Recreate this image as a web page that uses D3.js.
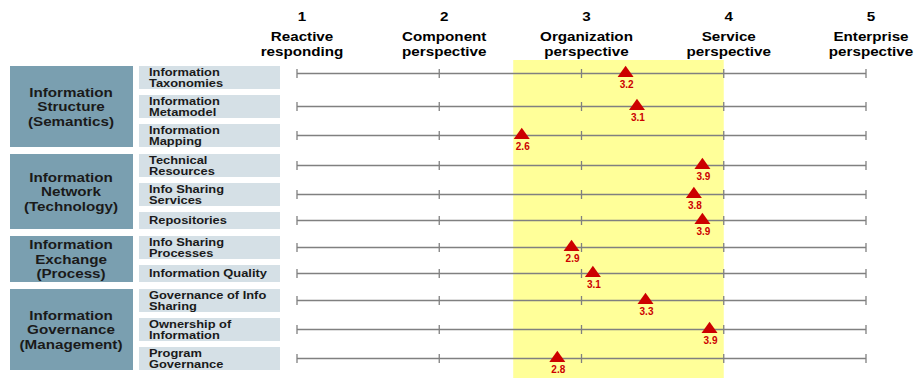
<!DOCTYPE html>
<html>
<head>
<meta charset="utf-8">
<script src="https://cdn.jsdelivr.net/npm/d3@7"></script>
<style>
  body { margin: 0; background: #fff; }
  svg { display: block; font-family: 'Liberation Sans', Arial, sans-serif; }
</style>
</head>
<body>
<div id="chart"></div>
<script>
// maturity levels across the top
let levels = [1, 2, 3, 4, 5]
let levelNames = [
  ['Reactive', 'responding'],
  ['Component', 'perspective'],
  ['Organization', 'perspective'],
  ['Service', 'perspective'],
  ['Enterprise', 'perspective']
]

// groups on the left and how many items each has
let groups = [
  ['Information', 'Structure', '(Semantics)'],
  ['Information', 'Network', '(Technology)'],
  ['Information', 'Exchange', '(Process)'],
  ['Information', 'Governance', '(Management)']
]
let groupSizes = [3, 3, 2, 3]

let items = [
  ['Information', 'Taxonomies'],
  ['Information', 'Metamodel'],
  ['Information', 'Mapping'],
  ['Technical', 'Resources'],
  ['Info Sharing', 'Services'],
  ['Repositories'],
  ['Info Sharing', 'Processes'],
  ['Information Quality'],
  ['Governance of Info', 'Sharing'],
  ['Ownership of', 'Information'],
  ['Program', 'Governance']
]

// score printed under each marker
let scores = [3.2, 3.1, 2.6, 3.9, 3.8, 3.9, 2.9, 3.1, 3.3, 3.9, 2.8]
// where the marker sits on the 1-5 scale, as drawn in the picture
let plotted = [3.31, 3.39, 2.58, 3.85, 3.79, 3.85, 2.93, 3.08, 3.45, 3.9, 2.83]

// highlighted band on the scale
let band = [2.52, 4.0]

////////////////////////////////////////////////////////////////////////
let width = 917
let height = 378
let sx = 1.17 // the source text is stretched sideways a bit

let svg = d3
  .select('#chart')
  .append('svg')
  .attr('width', width)
  .attr('height', height)

let x = d3.scaleLinear().domain([1, 5]).range([297, 866])

// row layout: two line boxes are taller, small gap inside a group, bigger between
let rows = []
let y = 66
let idx = 0
let groupBoxes = []
groupSizes.forEach(function (n, g) {
  let top = y
  for (let k = 0; k < n; k++) {
    let h = items[idx].length > 1 ? 23 : 17
    rows.push({ top: y, h: h, mid: y + h / 2 })
    y += h + (k < n - 1 ? 6 : 0)
    idx++
  }
  groupBoxes.push({ top: top, bottom: y, lines: groups[g] })
  y += 7
})
rows[0].mid -= 4

// yellow band
svg
  .append('rect')
  .attr('x', x(band[0]))
  .attr('y', 60)
  .attr('width', x(band[1]) - x(band[0]))
  .attr('height', height - 60)
  .attr('fill', '#ffff99')

// header
let head = svg
  .selectAll('.head')
  .data(levels)
  .enter()
  .append('g')
  .attr('class', 'head')
  .attr('transform', d => 'translate(' + (x(d) + 5) + ',0)')

head
  .append('text')
  .attr('transform', 'translate(0,21) scale(' + sx + ',1)')
  .attr('text-anchor', 'middle')
  .attr('font-weight', 'bold')
  .attr('font-size', 13)
  .text(d => d)

head.each(function (d, i) {
  levelNames[i].forEach(function (line, j) {
    d3.select(this)
      .append('text')
      .attr('transform', 'translate(0,' + (41 + j * 15) + ') scale(' + sx + ',1)')
      .attr('text-anchor', 'middle')
      .attr('font-weight', 'bold')
      .attr('font-size', 13)
      .text(line)
  }, this)
})

// group boxes
groupBoxes.forEach(function (b) {
  svg
    .append('rect')
    .attr('x', 10)
    .attr('y', b.top)
    .attr('width', 123)
    .attr('height', b.bottom - b.top)
    .attr('fill', '#7a9fb0')
  let cy = (b.top + b.bottom) / 2
  b.lines.forEach(function (line, j) {
    svg
      .append('text')
      .attr('transform', 'translate(71,' + (cy + (j - 1) * 14.5 + 4.7) + ') scale(' + sx + ',1)')
      .attr('text-anchor', 'middle')
      .attr('font-weight', 'bold')
      .attr('font-size', 13)
      .attr('fill', '#1a1a1a')
      .text(line)
  })
})

// item boxes + labels
rows.forEach(function (r, i) {
  svg
    .append('rect')
    .attr('x', 139)
    .attr('y', r.top)
    .attr('width', 141)
    .attr('height', r.h)
    .attr('fill', '#d5e0e6')
  let lines = items[i]
  let cy = r.top + r.h / 2
  lines.forEach(function (line, j) {
    let off = (j - (lines.length - 1) / 2) * 11.7
    svg
      .append('text')
      .attr('transform', 'translate(149,' + (cy + off + 3.9) + ') scale(' + sx + ',1)')
      .attr('font-weight', 'bold')
      .attr('font-size', 11)
      .attr('fill', '#1a1a1a')
      .text(line)
  })
})

// scale lines with ticks
let scaleRows = svg
  .selectAll('.scale')
  .data(rows)
  .enter()
  .append('g')
  .attr('class', 'scale')
  .attr('transform', d => 'translate(0,' + d.mid + ')')

scaleRows
  .append('line')
  .attr('x1', x(1))
  .attr('x2', x(5))
  .attr('stroke', '#808080')
  .attr('stroke-width', 1.3)

scaleRows
  .selectAll('.tick')
  .data(levels)
  .enter()
  .append('line')
  .attr('x1', d => x(d))
  .attr('x2', d => x(d))
  .attr('y1', -4.5)
  .attr('y2', 4.5)
  .attr('stroke', '#808080')
  .attr('stroke-width', 1.3)

// markers
scaleRows
  .append('path')
  .attr('d', (d, i) => {
    let cx = x(plotted[i])
    return 'M' + (cx - 8) + ',3.4 L' + cx + ',-7.8 L' + (cx + 8) + ',3.4 Z'
  })
  .attr('fill', '#cc0000')

scaleRows
  .append('text')
  .attr('x', (d, i) => x(plotted[i]) + 1)
  .attr('y', 14)
  .attr('text-anchor', 'middle')
  .attr('font-weight', 'bold')
  .attr('font-size', 10)
  .attr('fill', '#cc0000')
  .text((d, i) => scores[i].toFixed(1))
</script>
</body>
</html>
